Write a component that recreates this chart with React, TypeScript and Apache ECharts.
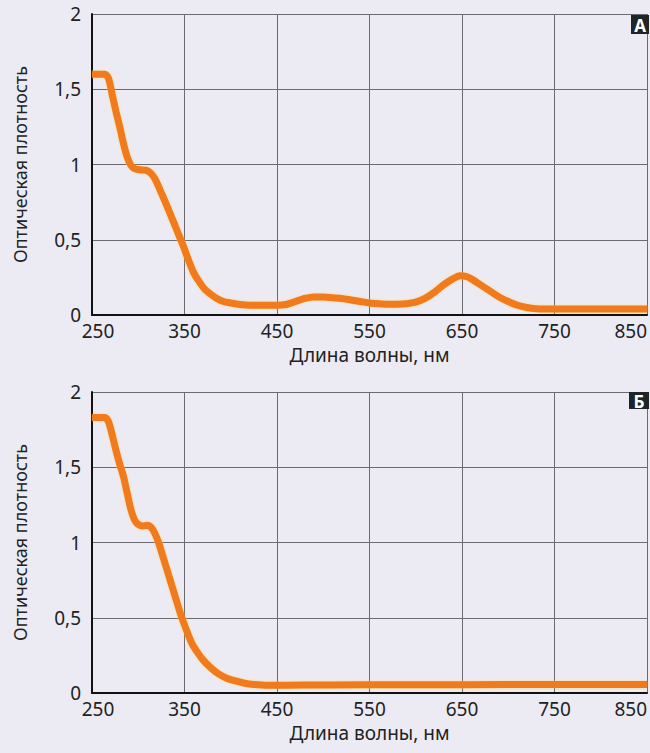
import React, { useEffect, useRef } from "react";
import * as echarts from "echarts";

// Panel A: wavelength (nm) and optical density
const wavelengthsA = [250, 258, 264, 268, 272, 276, 280, 284, 288, 292, 296, 302, 308, 313, 318, 324, 330, 336, 342, 348, 354, 360, 366, 372, 378, 385, 392, 400, 410, 420, 430, 440, 450, 460, 470, 480, 490, 500, 510, 520, 530, 540, 550, 560, 570, 580, 590, 600, 610, 620, 630, 640, 648, 655, 660, 670, 680, 690, 700, 710, 720, 730, 740, 750, 800, 850];
const densityA = [1.6, 1.6, 1.6, 1.57, 1.46, 1.35, 1.25, 1.14, 1.05, 0.995, 0.972, 0.965, 0.962, 0.945, 0.905, 0.825, 0.74, 0.65, 0.56, 0.47, 0.37, 0.28, 0.22, 0.17, 0.14, 0.11, 0.09, 0.08, 0.07, 0.065, 0.065, 0.065, 0.065, 0.07, 0.09, 0.11, 0.12, 0.12, 0.115, 0.11, 0.1, 0.09, 0.08, 0.075, 0.072, 0.072, 0.075, 0.085, 0.11, 0.15, 0.2, 0.24, 0.26, 0.255, 0.24, 0.2, 0.16, 0.12, 0.09, 0.065, 0.05, 0.042, 0.04, 0.04, 0.04, 0.04];

// Panel Б
const wavelengthsB = [250, 258, 264, 268, 272, 276, 280, 284, 288, 292, 296, 300, 305, 310, 314, 318, 322, 328, 334, 340, 346, 352, 358, 364, 370, 378, 386, 395, 405, 415, 425, 440, 460, 500, 600, 700, 800, 850];
const densityB = [1.83, 1.83, 1.83, 1.8, 1.71, 1.61, 1.52, 1.44, 1.33, 1.22, 1.15, 1.12, 1.11, 1.115, 1.1, 1.06, 1.0, 0.88, 0.76, 0.64, 0.52, 0.42, 0.33, 0.27, 0.22, 0.17, 0.13, 0.1, 0.08, 0.065, 0.057, 0.052, 0.052, 0.053, 0.055, 0.056, 0.057, 0.057];

const xTicks = { min: 250, max: 850, step: 100 };
const yTicks = { min: 0, max: 2, step: 0.5 };
const panelLabels = ["А", "Б"];
const xTitle = "Длина волны, нм";
const yTitle = "Оптическая плотность";

const FONT = "'Noto Sans', 'Open Sans', sans-serif";

export default function App() {
  const ref = useRef<HTMLDivElement>(null);
  useEffect(() => {
    document.body.style.margin = "0";
    const chart = echarts.init(ref.current!, undefined, { renderer: "svg" });
    const grids = [
      { left: 92, top: 14, width: 557, height: 301 },
      { left: 92, top: 392, width: 557, height: 301 },
    ];
    const xAxis = grids.map((_, i) => ({
      type: "value",
      gridIndex: i,
      min: xTicks.min,
      max: xTicks.max,
      interval: xTicks.step,
      axisLine: { show: true, onZero: false, lineStyle: { color: "#111", width: 2 } },
      axisTick: { show: false },
      axisLabel: {
        fontSize: 19,
        color: "#222",
        margin: 6,
        fontFamily: FONT,
        alignMaxLabel: "right",
        formatter: (v: number) => (v === xTicks.min ? `{first|${v}}` : `${v}`),
        rich: { first: { fontSize: 19, color: "#222", fontFamily: FONT, padding: [0, 0, 0, 12] } },
      },
      splitLine: { show: true, lineStyle: { color: "#6a6a70", width: 1 } },
      name: xTitle,
      nameLocation: "middle",
      nameGap: 30,
      nameTextStyle: { fontSize: 19, color: "#222", fontFamily: FONT },
    }));
    const yAxis = grids.map((_, i) => ({
      type: "value",
      gridIndex: i,
      min: yTicks.min,
      max: yTicks.max,
      interval: yTicks.step,
      axisLine: { show: true, lineStyle: { color: "#111", width: 2 } },
      axisTick: { show: false },
      axisLabel: {
        fontSize: 19,
        color: "#222",
        margin: 11,
        fontFamily: FONT,
        formatter: (v: number) => String(v).replace(".", ","),
      },
      splitLine: { show: true, lineStyle: { color: "#6a6a70", width: 1 } },
      name: yTitle,
      nameLocation: "middle",
      nameGap: 63,
      nameTextStyle: { fontSize: 18, color: "#222", fontFamily: FONT },
    }));
    const lineStyle = { color: "#f07a1c", width: 7, shadowColor: "rgba(250,200,60,0.6)", shadowBlur: 2 };
    const series = [
      {
        type: "line",
        xAxisIndex: 0,
        yAxisIndex: 0,
        data: wavelengthsA.map((w, i) => [w, densityA[i]]),
        smooth: 0.25,
        showSymbol: false,
        lineStyle,
      },
      {
        type: "line",
        xAxisIndex: 1,
        yAxisIndex: 1,
        data: wavelengthsB.map((w, i) => [w, densityB[i]]),
        smooth: 0.25,
        showSymbol: false,
        lineStyle,
      },
    ];
    const badges = [
      { x: 631, y: 15, w: 18, h: 19 },
      { x: 629, y: 392, w: 20, h: 17 },
    ];
    const graphic = badges.flatMap((b, i) => [
      { type: "rect", shape: { x: b.x, y: b.y, width: b.w, height: b.h }, style: { fill: "#1c2626" }, z: 100 },
      {
        type: "text",
        x: b.x + b.w / 2,
        y: b.y + b.h / 2 + 1,
        style: {
          text: panelLabels[i],
          fill: "#fff",
          font: `bold 17px ${FONT}`,
          textAlign: "center",
          textVerticalAlign: "middle",
        },
        z: 101,
      },
    ]);
    chart.setOption({
      animation: false,
      backgroundColor: "#ecebf3",
      textStyle: { fontFamily: FONT },
      grid: grids,
      xAxis,
      yAxis,
      series,
      graphic,
    });
    return () => chart.dispose();
  }, []);
  return <div ref={ref} style={{ width: 650, height: 753 }} />;
}
